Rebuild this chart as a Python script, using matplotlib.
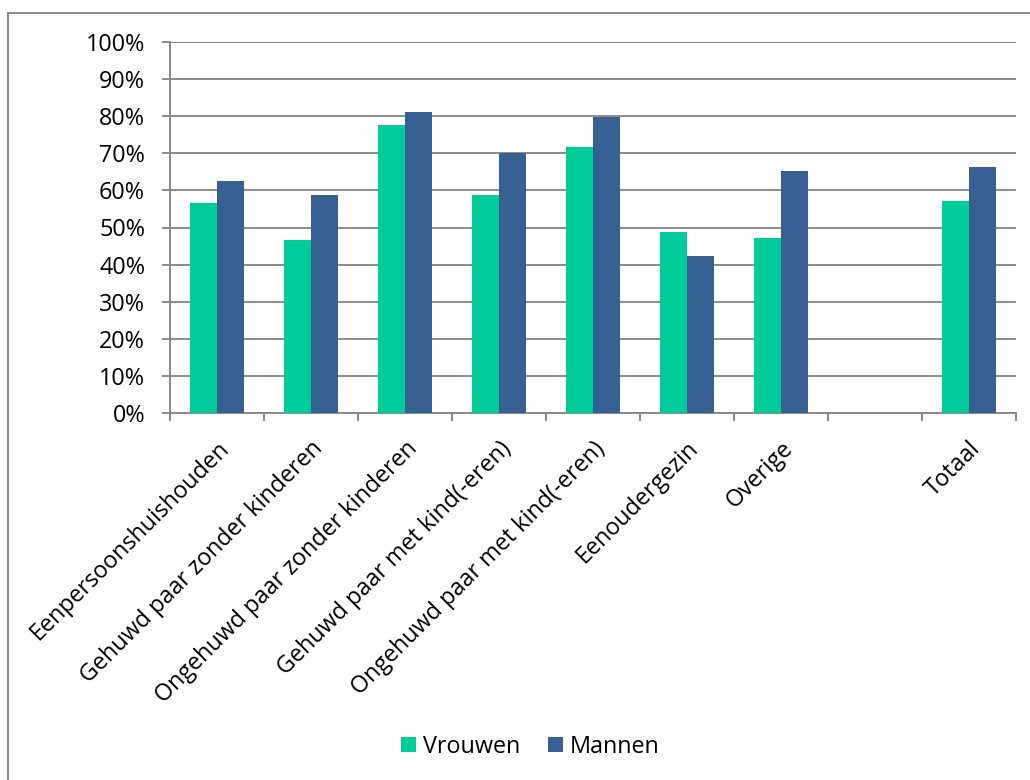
import matplotlib.pyplot as plt
import numpy as np
from matplotlib.lines import Line2D
from matplotlib.patches import Patch
from matplotlib.ticker import PercentFormatter

plt.rcParams['font.family'] = ['Open Sans', 'DejaVu Sans']

categories = ['Eenpersoonshuishouden', 'Gehuwd paar zonder kinderen',
              'Ongehuwd paar zonder kinderen', 'Gehuwd paar met kind(-eren)',
              'Ongehuwd paar met kind(-eren)', 'Eenoudergezin', 'Overige',
              '', 'Totaal']
vrouwen = [56.7, 46.7, 77.6, 58.8, 71.7, 48.9, 47.1, np.nan, 57.2]
mannen = [62.6, 58.8, 81.0, 70.0, 79.7, 42.4, 65.3, np.nan, 66.4]
series_names = ['Vrouwen', 'Mannen']
colors = ['#00CC99', '#366092']

W, H = 1030, 780
fs = 16.8
fig = plt.figure(figsize=(W / 100, H / 100), dpi=100)
ax = fig.add_axes([170 / W, 1 - 413 / H, (1016 - 170) / W, (413 - 42) / H])

x = np.arange(len(categories))
bw = 0.29
ax.bar(x - bw / 2, vrouwen, bw, color=colors[0], zorder=3)
ax.bar(x + bw / 2, mannen, bw, color=colors[1], zorder=3)

ax.set_xlim(-0.5, len(categories) - 0.5)
ax.set_ylim(0, 100)
ax.set_yticks(np.arange(0, 101, 10))
ax.yaxis.set_major_formatter(PercentFormatter(decimals=0))
ax.yaxis.grid(True, color='#8a8a8a', linewidth=1.4, zorder=0)
ax.set_axisbelow(True)

gray = '#8a8a8a'
for s in ['top', 'right']:
    ax.spines[s].set_visible(False)
for s in ['left', 'bottom']:
    ax.spines[s].set_color(gray)
    ax.spines[s].set_linewidth(1.4)

ax.tick_params(axis='y', length=6, width=1.4, color=gray, pad=12,
               labelsize=fs, labelcolor='black')
# category labels at centers, tick marks at boundaries
ax.set_xticks(x)
ax.set_xticklabels(categories, rotation=45, ha='right', va='top',
                   rotation_mode='anchor', fontsize=fs)
ax.tick_params(axis='x', which='major', length=0, pad=17)
ax.set_xticks(np.arange(-0.5, len(categories)), minor=True)
ax.tick_params(axis='x', which='minor', length=6, width=1.4, color=gray)

handles = [Patch(facecolor=c) for c in colors]
fig.legend(handles, series_names, loc='center', bbox_to_anchor=(0.515, 1 - 747 / H),
           ncol=2, frameon=False, fontsize=fs, handlelength=0.62,
           handleheight=0.62, handletextpad=0.3, columnspacing=1.2)

# chart area border (top and left visible)
fig.add_artist(Line2D([7.5 / W, 1], [1 - 13 / H] * 2, transform=fig.transFigure,
                      color=gray, linewidth=1.4))
fig.add_artist(Line2D([7.5 / W] * 2, [0, 1 - 13 / H], transform=fig.transFigure,
                      color=gray, linewidth=1.4))

fig.savefig('out.png', dpi=100)
